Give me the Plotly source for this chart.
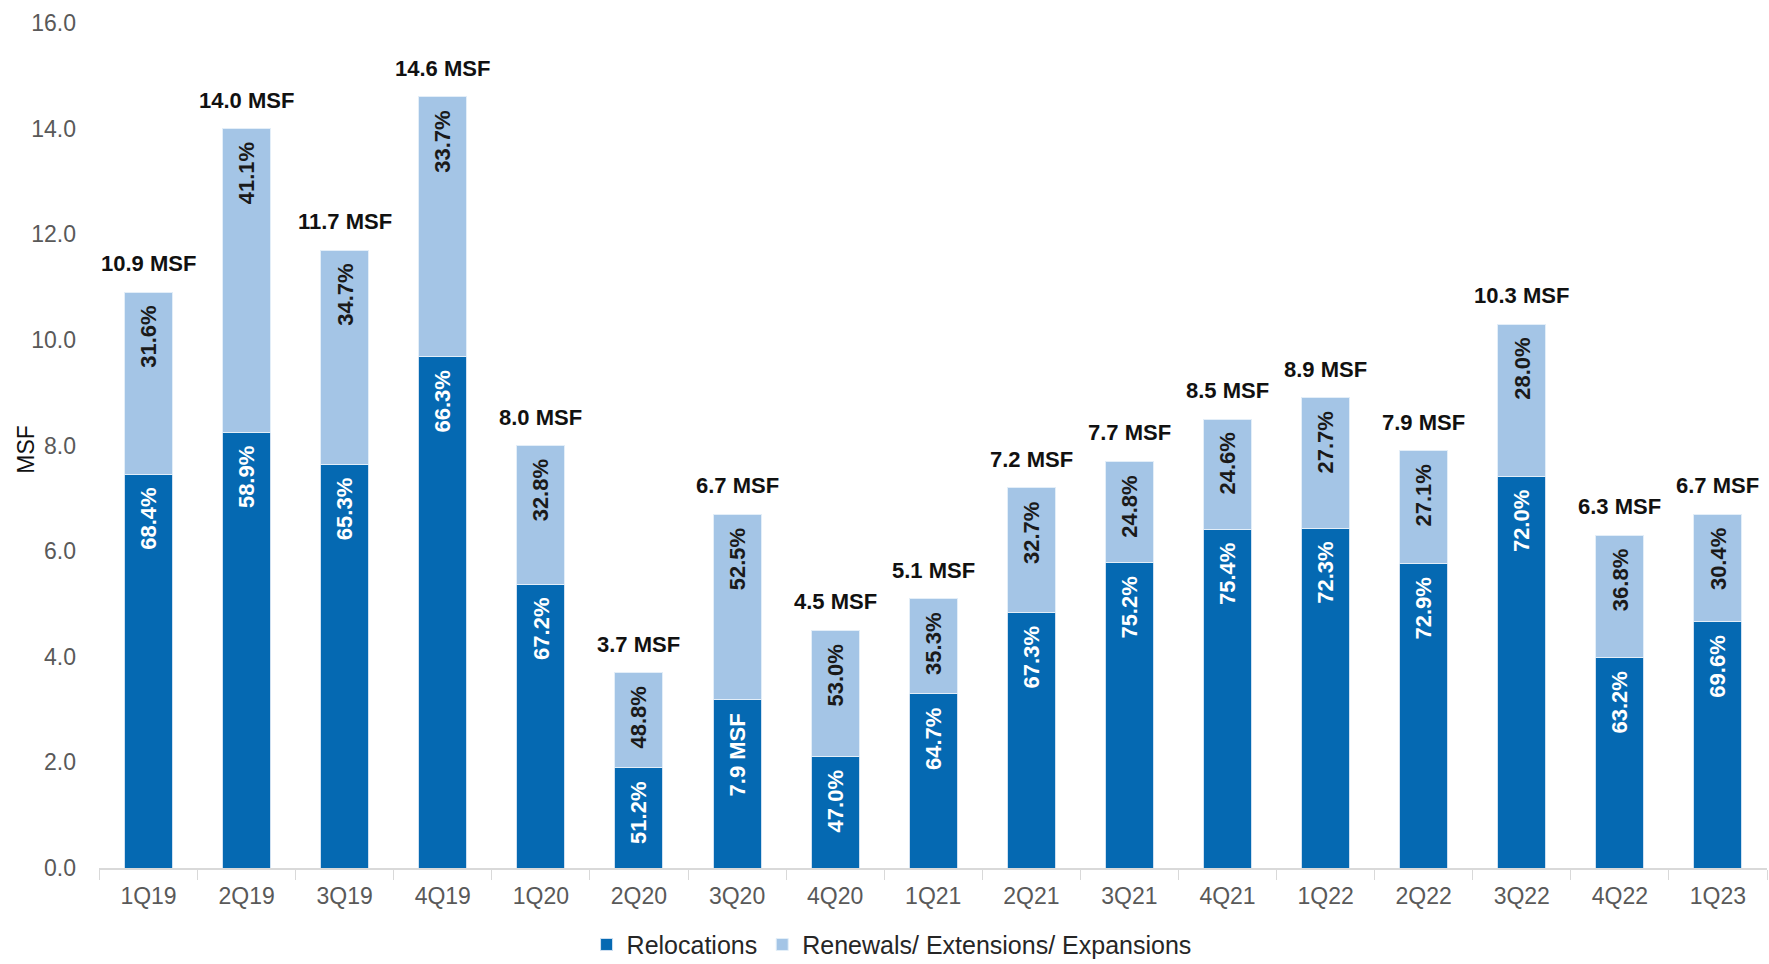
import plotly.graph_objects as go

quarters = ["1Q19", "2Q19", "3Q19", "4Q19", "1Q20", "2Q20", "3Q20", "4Q20", "1Q21",
            "2Q21", "3Q21", "4Q21", "1Q22", "2Q22", "3Q22", "4Q22", "1Q23"]
total_msf = [10.9, 14.0, 11.7, 14.6, 8.0, 3.7, 6.7, 4.5, 5.1,
             7.2, 7.7, 8.5, 8.9, 7.9, 10.3, 6.3, 6.7]
renewal_pct = [31.6, 41.1, 34.7, 33.7, 32.8, 48.8, 52.5, 53.0, 35.3,
               32.7, 24.8, 24.6, 27.7, 27.1, 28.0, 36.8, 30.4]
relocation_labels = ["68.4%", "58.9%", "65.3%", "66.3%", "67.2%", "51.2%", "7.9 MSF", "47.0%", "64.7%",
                     "67.3%", "75.2%", "75.4%", "72.3%", "72.9%", "72.0%", "63.2%", "69.6%"]

# Split each quarter's total into the two leasing types
renewal_msf = [t * p / 100 for t, p in zip(total_msf, renewal_pct)]
relocation_msf = [t - r for t, r in zip(total_msf, renewal_msf)]

DARK = "#0569B2"
LIGHT = "#A4C5E6"
BASE_FONT = "Liberation Sans, Arial, sans-serif"
NARROW_FONT = "Liberation Sans Narrow, Arial Narrow, Liberation Sans, Arial, sans-serif"

fig = go.Figure()
fig.add_trace(go.Bar(
    x=quarters, y=relocation_msf, name="Relocations",
    marker=dict(color=DARK, line=dict(color="#cfe0f1", width=1)),
))
fig.add_trace(go.Bar(
    x=quarters, y=renewal_msf, name="Renewals/ Extensions/ Expansions",
    marker=dict(color=LIGHT, line=dict(color="#e3eef8", width=1)),
))

annotations = []
for q, tot, reloc, rlab, rpct in zip(quarters, total_msf, relocation_msf, relocation_labels, renewal_pct):
    # total above each stack
    annotations.append(dict(
        x=q, y=tot, xref="x", yref="y", text=f"<b>{tot:.1f} MSF</b>",
        showarrow=False, yanchor="bottom", yshift=14,
        font=dict(family=BASE_FONT, size=22, color="#111111"),
    ))
    # share of renewals, near the top of the light segment
    annotations.append(dict(
        x=q, y=tot, xref="x", yref="y", text=f"<b>{rpct:.1f}%</b>",
        showarrow=False, yanchor="top", yshift=-12, textangle=-90,
        font=dict(family=NARROW_FONT, size=22, color="#1a1a1a"),
    ))
    # share of relocations, near the top of the dark segment
    annotations.append(dict(
        x=q, y=reloc, xref="x", yref="y", text=f"<b>{rlab}</b>",
        showarrow=False, yanchor="top", yshift=-12, textangle=-90,
        font=dict(family=NARROW_FONT, size=22, color="#ffffff"),
    ))

# y-axis title, set close to the tick labels
annotations.append(dict(
    x=0, y=0.495, xref="paper", yref="paper", xshift=-73, text="MSF",
    showarrow=False, textangle=-90, xanchor="center", yanchor="middle",
    font=dict(family=BASE_FONT, size=23, color="#111111"),
))

fig.update_layout(
    barmode="stack",
    bargap=0.51,
    width=1769, height=964,
    margin=dict(l=99, r=2, t=23, b=96),
    paper_bgcolor="white", plot_bgcolor="white",
    font=dict(family=BASE_FONT, size=23, color="#595959"),
    annotations=annotations,
    legend=dict(
        orientation="h", xref="container", yref="container",
        x=0.504, xanchor="center", y=0.02, yanchor="middle",
        font=dict(family=BASE_FONT, size=25, color="#262626"),
        traceorder="normal", itemwidth=30,
    ),
    showlegend=True,
)
fig.update_xaxes(
    type="category", showline=True, linecolor="#d9d9d9", linewidth=2,
    ticks="outside", tickson="boundaries", ticklen=10, tickcolor="#d9d9d9",
    ticklabelstandoff=6,
    tickfont=dict(size=23, color="#595959"), showgrid=False,
)
fig.update_yaxes(
    range=[0, 16], dtick=2, tickformat=".1f", showgrid=False, zeroline=False,
    showline=False, ticks="", ticklabelstandoff=22,
    tickfont=dict(size=23, color="#595959"),
)

fig.write_html("out.html")
